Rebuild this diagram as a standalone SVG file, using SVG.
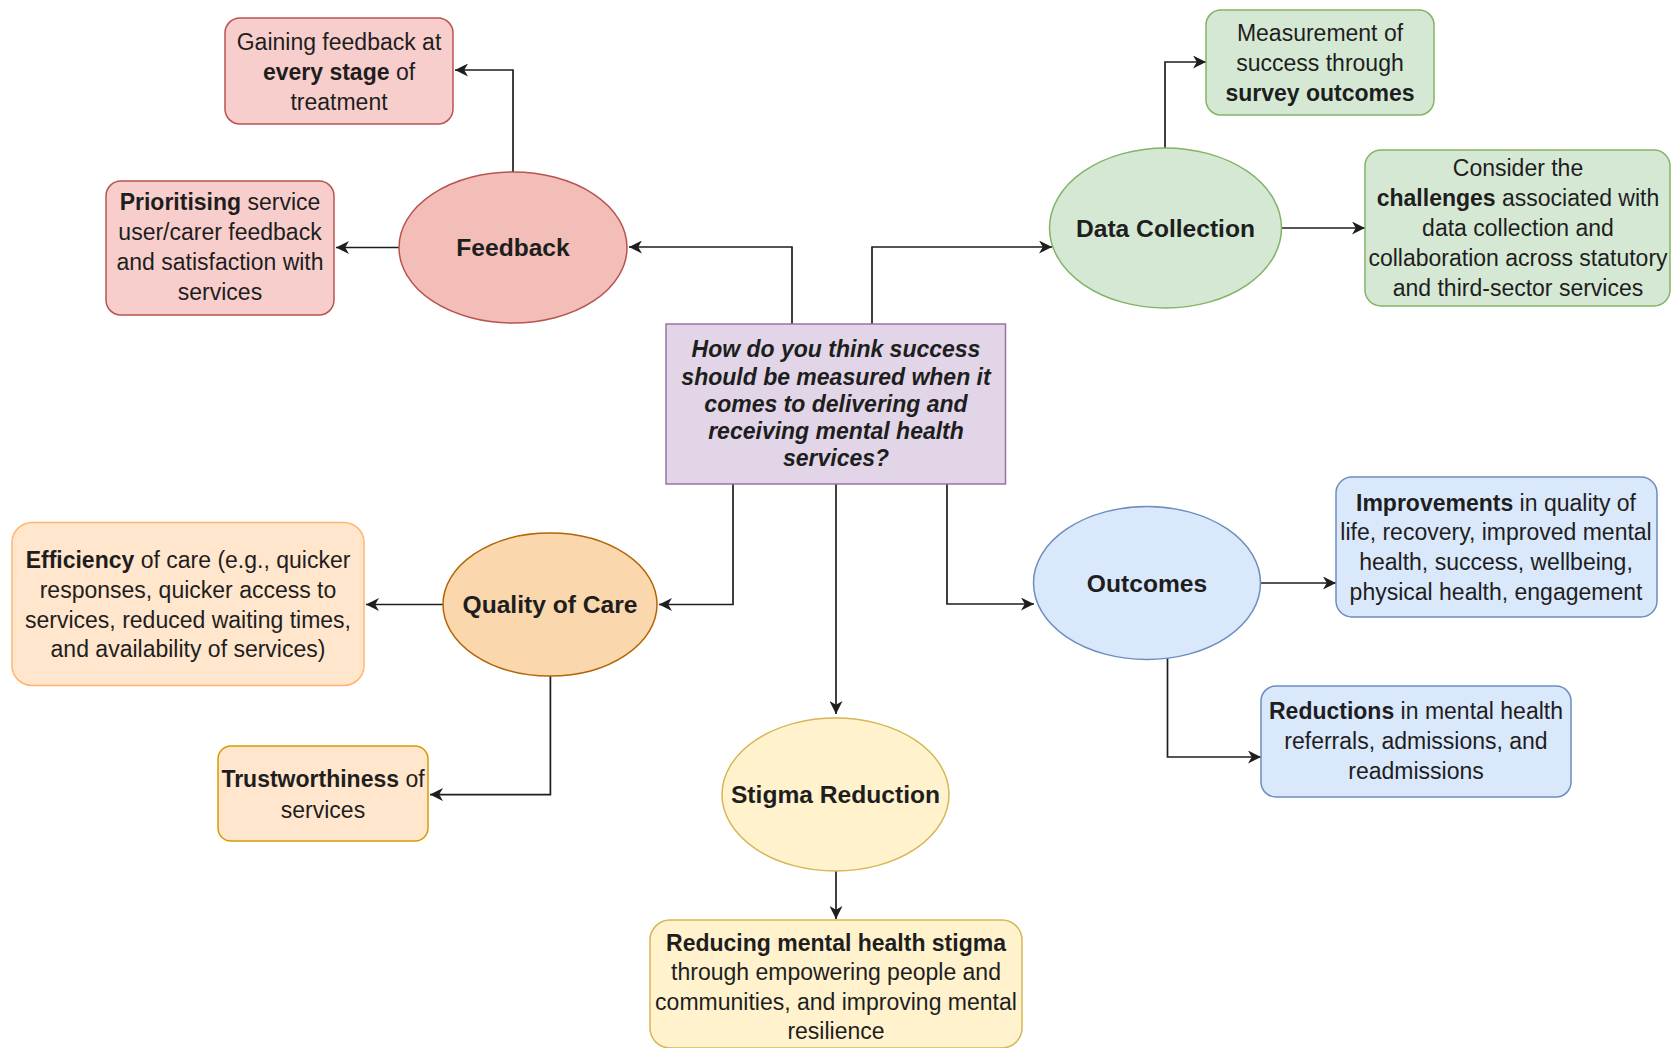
<svg xmlns="http://www.w3.org/2000/svg" width="1672" height="1048" viewBox="0 0 1672 1048">
<defs>
<style>
text{font-family:"Liberation Sans",Arial,sans-serif;fill:#1e1e1e;text-anchor:middle}
.t{font-size:23px}
.n{font-size:24.6px;font-weight:bold}
.c{font-size:23px;font-weight:bold;font-style:italic}
.b{font-weight:bold}
.e{stroke:#1e1e1e;stroke-width:1.7;fill:none;marker-end:url(#ah)}
.red{fill:#f8cecc;stroke:#b85450;stroke-width:1.5}
.redE{fill:#f3bdb8;stroke:#b85450;stroke-width:1.5}
.grn{fill:#d5e8d4;stroke:#82b366;stroke-width:1.5}
.pur{fill:#e1d5e7;stroke:#9673a6;stroke-width:1.5}
.orgB{fill:#ffe6cc;stroke:#ffb570;stroke-width:1.5}
.orgE{fill:#fad7ac;stroke:#b46504;stroke-width:1.5}
.orgT{fill:#ffe6cc;stroke:#d79b00;stroke-width:1.5}
.blu{fill:#dae8fc;stroke:#6c8ebf;stroke-width:1.5}
.yel{fill:#fff2cc;stroke:#d6b656;stroke-width:1.5}
</style>
<marker id="ah" markerUnits="userSpaceOnUse" markerWidth="15" markerHeight="13" refX="13" refY="6.5" orient="auto">
<path d="M0,0 L13,6.5 L0,13 L3.8,6.5 z" fill="#1e1e1e"/>
</marker>
</defs>
<rect width="1672" height="1048" fill="#ffffff"/>

<g id="connectors">
<path class="e" d="M513,172 V70 H455"/>
<path class="e" d="M399,247.5 H336"/>
<path class="e" d="M792,324 V247 H629"/>
<path class="e" d="M872,324 V247 H1052"/>
<path class="e" d="M1165,148 V62 H1206"/>
<path class="e" d="M1282,228 H1365"/>
<path class="e" d="M733,484 V604.5 H659"/>
<path class="e" d="M443,604.5 H366"/>
<path class="e" d="M550.4,676 V794.6 H430"/>
<path class="e" d="M836,484 V714"/>
<path class="e" d="M947,484 V604 H1034"/>
<path class="e" d="M1261,583 H1336"/>
<path class="e" d="M1167.5,658 V757 H1261"/>
<path class="e" d="M836,871 V919"/>
</g>

<g id="gaining">
<rect class="red" x="225" y="18" width="228" height="106" rx="15"/>
<text class="t"><tspan x="339" y="50">Gaining feedback at</tspan><tspan x="339" y="80"><tspan class="b">every stage</tspan> of</tspan><tspan x="339" y="110">treatment</tspan></text>
</g>
<g id="prioritising">
<rect class="red" x="106" y="181" width="228" height="134" rx="15"/>
<text class="t"><tspan x="220" y="210"><tspan class="b">Prioritising</tspan> service</tspan><tspan x="220" y="240">user/carer feedback</tspan><tspan x="220" y="270">and satisfaction with</tspan><tspan x="220" y="300">services</tspan></text>
</g>
<g id="feedback">
<ellipse class="redE" cx="513" cy="247.5" rx="114" ry="75.5"/>
<text class="n" x="513" y="256">Feedback</text>
</g>

<g id="data-collection">
<ellipse class="grn" cx="1165.5" cy="228" rx="116" ry="80"/>
<text class="n" x="1165.5" y="236.5">Data Collection</text>
</g>
<g id="measurement">
<rect class="grn" x="1206" y="10" width="228" height="105" rx="15"/>
<text class="t"><tspan x="1320" y="41">Measurement of</tspan><tspan x="1320" y="71">success through</tspan><tspan x="1320" y="101" class="b">survey outcomes</tspan></text>
</g>
<g id="consider">
<rect class="grn" x="1365" y="150" width="305" height="156" rx="16"/>
<text class="t"><tspan x="1518" y="176">Consider the</tspan><tspan x="1518" y="206"><tspan class="b">challenges</tspan> associated with</tspan><tspan x="1518" y="236">data collection and</tspan><tspan x="1518" y="266">collaboration across statutory</tspan><tspan x="1518" y="296">and third-sector services</tspan></text>
</g>

<g id="question">
<rect class="pur" x="666" y="324" width="339.5" height="160"/>
<text class="c"><tspan x="836" y="357">How do you think success</tspan><tspan x="836" y="384.5">should be measured when it</tspan><tspan x="836" y="412">comes to delivering and</tspan><tspan x="836" y="439">receiving mental health</tspan><tspan x="836" y="466">services?</tspan></text>
</g>

<g id="quality-of-care">
<ellipse class="orgE" cx="550" cy="604.5" rx="107" ry="71.5"/>
<text class="n" x="550" y="613">Quality of Care</text>
</g>
<g id="efficiency">
<rect class="orgB" x="12" y="522.5" width="352" height="163" rx="20"/>
<text class="t"><tspan x="188" y="568"><tspan class="b">Efficiency</tspan> of care (e.g., quicker</tspan><tspan x="188" y="598">responses, quicker access to</tspan><tspan x="188" y="628">services, reduced waiting times,</tspan><tspan x="188" y="657">and availability of services)</tspan></text>
</g>
<g id="trustworthiness">
<rect class="orgT" x="218" y="746" width="210" height="95" rx="13"/>
<text class="t"><tspan x="323" y="787"><tspan class="b">Trustworthiness</tspan> of</tspan><tspan x="323" y="818">services</tspan></text>
</g>

<g id="outcomes">
<ellipse class="blu" cx="1147" cy="583" rx="113.5" ry="76.5"/>
<text class="n" x="1147" y="591.5">Outcomes</text>
</g>
<g id="improvements">
<rect class="blu" x="1336" y="477" width="321" height="140" rx="16"/>
<text class="t"><tspan x="1496" y="511"><tspan class="b">Improvements</tspan> in quality of</tspan><tspan x="1496" y="540">life, recovery, improved mental</tspan><tspan x="1496" y="570">health, success, wellbeing,</tspan><tspan x="1496" y="600">physical health, engagement</tspan></text>
</g>
<g id="reductions">
<rect class="blu" x="1261" y="686" width="310" height="111" rx="15"/>
<text class="t"><tspan x="1416" y="719"><tspan class="b">Reductions</tspan> in mental health</tspan><tspan x="1416" y="749">referrals, admissions, and</tspan><tspan x="1416" y="779">readmissions</tspan></text>
</g>

<g id="stigma-reduction">
<ellipse class="yel" cx="835.5" cy="794.5" rx="113.5" ry="76.5"/>
<text class="n" x="835.5" y="803">Stigma Reduction</text>
</g>
<g id="reducing">
<rect class="yel" x="650" y="920" width="372" height="128" rx="20"/>
<text class="t"><tspan x="836" y="951" class="b">Reducing mental health stigma</tspan><tspan x="836" y="980">through empowering people and</tspan><tspan x="836" y="1010">communities, and improving mental</tspan><tspan x="836" y="1039">resilience</tspan></text>
</g>
</svg>
